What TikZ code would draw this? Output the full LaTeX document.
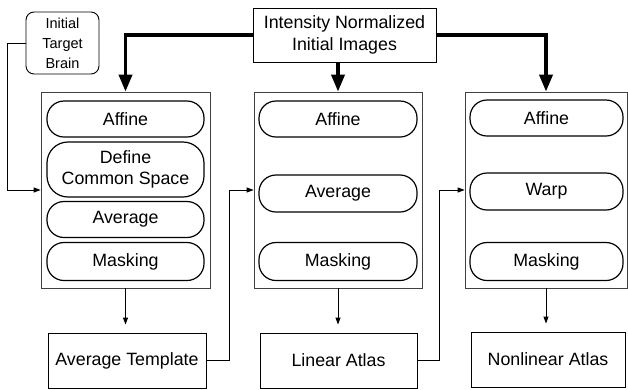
\documentclass[tikz,border=0pt]{standalone}
\usepackage{fontspec}
\setmainfont{Liberation Sans}
\usetikzlibrary{arrows.meta,positioning}

\begin{document}
\begin{tikzpicture}[x=1pt,y=-1pt,% pixel-like units, y going down
        txt/.style={font=\fontsize{17.8}{21.5}\selectfont,align=center,inner sep=0pt},
        plainbox/.style={txt,draw,line width=0.9pt},
        pill/.style={txt,draw,line width=1.2pt,rounded corners=17pt},
        panel/.style={draw=black!75,line width=0.7pt,inner sep=0pt},
        thinarrow/.style={line width=0.9pt,-{Triangle[width=5pt,length=7pt]}},
        fatarrow/.style={line width=3.6pt,-{Triangle[width=13pt,length=17pt]}}]
\useasboundingbox (0,0) rectangle (628,389);

% inputs
\node[plainbox,minimum width=183pt,minimum height=54pt] (intens) at (344.5,35) {Intensity Normalized\\Initial Images};
\node[txt,draw,line width=0.9pt,rounded corners=8pt,minimum width=73pt,minimum height=62pt,
      font=\fontsize{14.5}{20}\selectfont] (init) at (62.5,43) {Initial\\Target\\Brain};

% the three stages
\node[panel,minimum width=169pt,minimum height=196pt] (p1) at (125.5,190) {};
\node[panel,minimum width=168pt,minimum height=196pt] (p2) at (338,190) {};
\node[panel,minimum width=162pt,minimum height=196pt] (p3) at (546,190) {};

\node[pill,minimum width=157pt,minimum height=36pt] (p1-aff) at (125.5,119) {Affine};
\node[pill,minimum width=157pt,minimum height=55pt,rounded corners=21pt] (p1-def) at (125.5,169.5) {Define\\Common Space};
\node[pill,minimum width=157pt,minimum height=36pt] (p1-avg) at (125.5,219.5) {Average};
\node[pill,minimum width=157pt,minimum height=38pt] (p1-mask) at (125.5,261.5) {Masking};

\node[pill,minimum width=158pt,minimum height=36pt] (p2-aff) at (338,119) {Affine};
\node[pill,minimum width=158pt,minimum height=37pt] (p2-avg) at (338,193.5) {Average};
\node[pill,minimum width=158pt,minimum height=38pt] (p2-mask) at (338,261.5) {Masking};

\node[pill,minimum width=153pt,minimum height=36pt] (p3-aff) at (546.5,118) {Affine};
\node[pill,minimum width=153pt,minimum height=37pt] (p3-warp) at (546.5,191.5) {Warp};
\node[pill,minimum width=153pt,minimum height=38pt] (p3-mask) at (546.5,261.5) {Masking};

% outputs
\node[plainbox,minimum width=158pt,minimum height=55pt] (avgt) at (127,360.5) {Average Template};
\node[plainbox,minimum width=157pt,minimum height=55pt] (lin) at (338.5,360.5) {Linear Atlas};
\node[plainbox,minimum width=154pt,minimum height=55pt] (nonlin) at (548,359.5) {Nonlinear Atlas};

% images into every stage
\draw[fatarrow] (intens.west) -| (p1.north);
\draw[fatarrow] (intens.south -| p2.north) -- (p2.north);
\draw[fatarrow] (intens.east) -| (p3.north);

% targets fed forward
\draw[thinarrow] (init.west) -- ++(-18,0) |- (p1.west);
\draw[thinarrow] (avgt.east) -- ++(23,0) |- (p2.west);
\draw[thinarrow] (lin.east) -- ++(22,0) |- (p3.west);

\foreach \p/\b in {p1/avgt,p2/lin,p3/nonlin}{ %stage to its result
\draw[thinarrow,shorten >=8pt] (\p.south) -- (\p.south |- \b.north);
}
\end{tikzpicture}
\end{document}
